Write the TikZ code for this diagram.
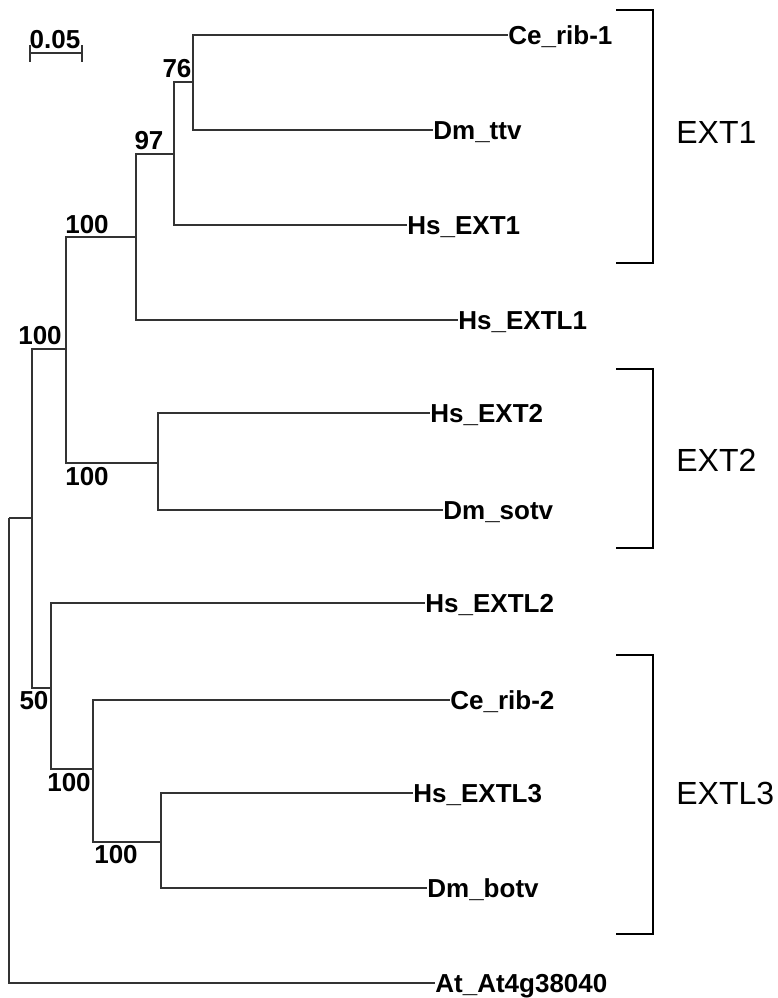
\documentclass[tikz,border=0pt]{standalone}
\usepackage{fontspec}
\setmainfont{Liberation Sans}
\tikzset{
  branch/.style={draw=black!80, line width=0.6pt},
  leaf/.style={anchor=west, inner xsep=0pt, inner ysep=1pt,
    font=\bfseries\fontsize{13}{15}\selectfont, text height=9.3pt, text depth=0pt},
  boot/.style={inner sep=0pt, font=\bfseries\fontsize{13}{15}\selectfont,
    text height=9.3pt, text depth=0pt},
  clade/.style={draw=black, line width=1pt},
  cladename/.style={anchor=west, inner sep=0pt, font=\fontsize{16}{19}\selectfont,
    text height=11.5pt, text depth=0pt},
}

\begin{document}
\begin{tikzpicture}[x=0.5pt, y=-0.5pt]
  \useasboundingbox (0,0) rectangle (778,998);
  % scale bar
  \coordinate (sbL) at (30,53);
  \coordinate (sbR) at (82,53);
  \draw[branch] (sbL) -- (sbR);
  \draw[branch] ([yshift=4pt]sbL) -- ([yshift=-4.5pt]sbL);
  \draw[branch] ([yshift=4pt]sbR) -- ([yshift=-4.5pt]sbR);
  \node[boot] (sblab) at (55,39) {0.05};
  % leaves
  \node[leaf] (ce1)   at (508,35)  {Ce\_rib-1};
  \node[leaf] (ttv)   at (433,130) {Dm\_ttv};
  \node[leaf] (ext1)  at (407,225) {Hs\_EXT1};
  \node[leaf] (extl1) at (458,320) {Hs\_EXTL1};
  \node[leaf] (ext2)  at (430,413) {Hs\_EXT2};
  \node[leaf] (sotv)  at (443,510) {Dm\_sotv};
  \node[leaf] (extl2) at (425,603) {Hs\_EXTL2};
  \node[leaf] (ce2)   at (450,700) {Ce\_rib-2};
  \node[leaf] (extl3) at (413,793) {Hs\_EXTL3};
  \node[leaf] (botv)  at (427,888) {Dm\_botv};
  \node[leaf] (at)    at (435,983) {At\_At4g38040};
  % internal nodes
  \coordinate (n76)  at (193,82);
  \coordinate (n97)  at (174,154);
  \coordinate (nA)   at (136,237);
  \coordinate (nB)   at (158,463);
  \coordinate (nC)   at (66,349);
  \coordinate (nD)   at (161,842);
  \coordinate (nE)   at (93,769);
  \coordinate (nF)   at (51,688);
  \coordinate (nG)   at (32,518);
  \coordinate (root) at (9,518);
  % branches
  \foreach \p/\c in {n76/ce1.west, n76/ttv.west, n97/n76, n97/ext1.west,
                     nA/n97, nA/extl1.west, nB/ext2.west, nB/sotv.west,
                     nC/nA, nC/nB, nD/extl3.west, nD/botv.west,
                     nE/ce2.west, nE/nD, nF/extl2.west, nF/nE,
                     nG/nC, nG/nF, root/nG, root/at.west}
    \draw[branch] (\p) |- (\c);
  % bootstrap values
  \node[boot] (b76)  at (177,68)  {76};
  \node[boot] (b97)  at (149,140) {97};
  \node[boot] (bA)   at (87,224)  {100};
  \node[boot] (bC)   at (40,335)  {100};
  \node[boot] (bB)   at (87,476)  {100};
  \node[boot] (bF)   at (34,700)  {50};
  \node[boot] (bE)   at (69,782)  {100};
  \node[boot] (bD)   at (116,854) {100};
  % clade brackets
  \draw[clade] (616,10) -- (653,10) -- (653,263) -- (616,263);
  \draw[clade] (616,369) -- (653,369) -- (653,548) -- (616,548);
  \draw[clade] (616,655) -- (653,655) -- (653,934) -- (616,934);
  \node[cladename] (cEXT1)  at (676,132) {EXT1};
  \node[cladename] (cEXT2)  at (676,460) {EXT2};
  \node[cladename] (cEXTL3) at (676,793) {EXTL3};
\end{tikzpicture}
\end{document}
